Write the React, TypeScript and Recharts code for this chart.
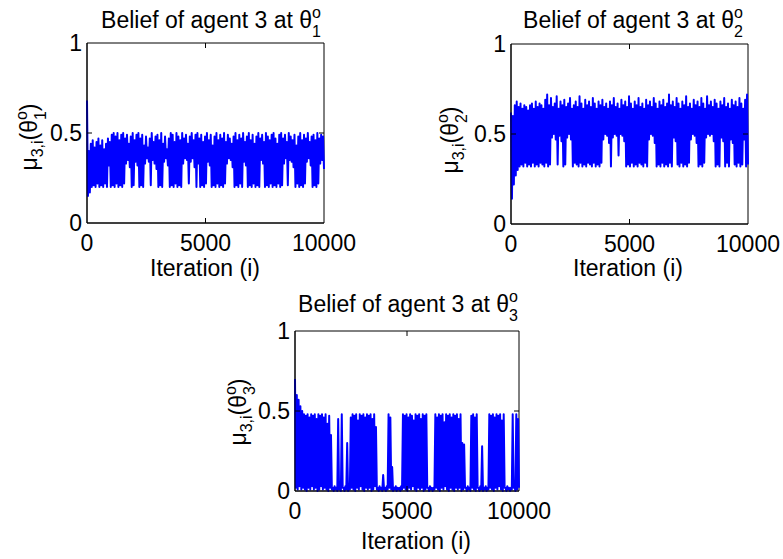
import React from 'react';
import { LineChart, Line, XAxis, YAxis, ReferenceArea, ReferenceLine } from 'recharts';

// ---- tick labels ----
const iterTicks = [0, 5000, 10000];
const beliefTicks = [0, 0.5, 1];

// ---- agent 3 belief at theta_1 (upper / lower envelope per column of ~80 iterations) ----
const theta1High = [
  0.68, 0.40, 0.44, 0.46, 0.42, 0.45, 0.47, 0.43, 0.46, 0.41, 0.44, 0.47, 0.45,
  0.49, 0.50, 0.48, 0.50, 0.46, 0.49, 0.50, 0.47, 0.49, 0.44,
  0.48, 0.50, 0.46, 0.49, 0.50, 0.47, 0.49, 0.43, 0.48, 0.42,
  0.47, 0.50, 0.45, 0.48, 0.49, 0.46, 0.50, 0.44, 0.48, 0.41,
  0.47, 0.50, 0.49, 0.45, 0.50, 0.48, 0.46, 0.50, 0.47, 0.49,
  0.44, 0.48, 0.50, 0.46, 0.49, 0.50, 0.47, 0.49, 0.45, 0.48,
  0.50, 0.46, 0.49, 0.43, 0.48, 0.50, 0.46, 0.49, 0.47, 0.50,
  0.45, 0.49, 0.47, 0.44, 0.48, 0.50, 0.46, 0.49, 0.47, 0.50,
  0.45, 0.48, 0.50, 0.46, 0.49, 0.44, 0.48, 0.50, 0.47, 0.49,
  0.45, 0.50, 0.48, 0.46, 0.49, 0.50, 0.47, 0.44, 0.49, 0.50,
  0.47, 0.49, 0.45, 0.50, 0.48, 0.46, 0.49, 0.43, 0.48, 0.50,
  0.46, 0.49, 0.47, 0.50, 0.45, 0.48, 0.49, 0.46, 0.50, 0.47,
  0.49, 0.48,
];
const theta1Low = [
  0.15, 0.17, 0.20, 0.21, 0.20, 0.22, 0.20, 0.21, 0.20, 0.22, 0.20, 0.32, 0.20,
  0.21, 0.20, 0.22, 0.20, 0.21, 0.20, 0.22, 0.33, 0.35, 0.31,
  0.20, 0.21, 0.34, 0.32, 0.20, 0.21, 0.20, 0.33, 0.36, 0.34,
  0.21, 0.35, 0.33, 0.30, 0.20, 0.21, 0.20, 0.34, 0.36, 0.32,
  0.20, 0.21, 0.20, 0.22, 0.20, 0.21, 0.20, 0.33, 0.36, 0.35,
  0.22, 0.34, 0.36, 0.31, 0.20, 0.33, 0.20, 0.21, 0.20, 0.22,
  0.34, 0.32, 0.20, 0.21, 0.20, 0.22, 0.20, 0.21, 0.20, 0.22,
  0.33, 0.36, 0.35, 0.31, 0.20, 0.21, 0.20, 0.22, 0.20, 0.34,
  0.32, 0.20, 0.21, 0.20, 0.22, 0.20, 0.21, 0.20, 0.35, 0.33,
  0.20, 0.21, 0.20, 0.22, 0.20, 0.21, 0.20, 0.22, 0.20, 0.21,
  0.33, 0.36, 0.21, 0.35, 0.34, 0.31, 0.20, 0.22, 0.20, 0.21,
  0.20, 0.22, 0.34, 0.36, 0.32, 0.20, 0.21, 0.20, 0.22, 0.33,
  0.35, 0.30,
];

// ---- agent 3 belief at theta_2 ----
const theta2High = [
  0.62, 0.60, 0.66, 0.68, 0.65, 0.67, 0.64, 0.66, 0.65, 0.63,
  0.66, 0.67, 0.64, 0.68, 0.65, 0.67, 0.66, 0.64, 0.69, 0.72,
  0.66, 0.70, 0.65, 0.67, 0.71, 0.64, 0.68, 0.66, 0.69, 0.65,
  0.67, 0.70, 0.64, 0.66, 0.68, 0.65, 0.71, 0.67, 0.64, 0.69,
  0.66, 0.68, 0.65, 0.70, 0.67, 0.64, 0.68, 0.66, 0.69, 0.65,
  0.67, 0.64, 0.68, 0.66, 0.70, 0.65, 0.67, 0.64, 0.69, 0.66,
  0.68, 0.65, 0.71, 0.67, 0.64, 0.68, 0.66, 0.70, 0.65, 0.67,
  0.64, 0.69, 0.66, 0.68, 0.65, 0.70, 0.67, 0.64, 0.68, 0.66,
  0.69, 0.65, 0.67, 0.72, 0.66, 0.68, 0.65, 0.70, 0.67, 0.64,
  0.68, 0.66, 0.71, 0.65, 0.67, 0.64, 0.69, 0.66, 0.68, 0.65,
  0.70, 0.67, 0.64, 0.71, 0.66, 0.68, 0.65, 0.69, 0.67, 0.64,
  0.68, 0.66, 0.70, 0.65, 0.67, 0.64, 0.69, 0.66, 0.68, 0.65,
  0.70, 0.67, 0.64, 0.69, 0.72,
];
const theta2Low = [
  0.14, 0.22, 0.27, 0.30, 0.32, 0.33, 0.32, 0.34, 0.32, 0.33,
  0.32, 0.34, 0.32, 0.33, 0.32, 0.34, 0.33, 0.32, 0.34, 0.32,
  0.33, 0.48, 0.50, 0.47, 0.33, 0.49, 0.46, 0.32, 0.33, 0.48,
  0.50, 0.47, 0.32, 0.34, 0.33, 0.32, 0.34, 0.32, 0.33, 0.32,
  0.34, 0.33, 0.32, 0.34, 0.32, 0.33, 0.32, 0.34, 0.47, 0.50,
  0.49, 0.45, 0.32, 0.48, 0.50, 0.49, 0.38, 0.50, 0.49, 0.46,
  0.32, 0.33, 0.32, 0.34, 0.32, 0.33, 0.32, 0.34, 0.33, 0.32,
  0.34, 0.32, 0.47, 0.50, 0.49, 0.45, 0.32, 0.33, 0.32, 0.34,
  0.32, 0.33, 0.32, 0.34, 0.32, 0.48, 0.46, 0.33, 0.32, 0.34,
  0.32, 0.33, 0.32, 0.34, 0.47, 0.50, 0.49, 0.45, 0.32, 0.33,
  0.32, 0.34, 0.48, 0.50, 0.49, 0.50, 0.46, 0.32, 0.33, 0.32,
  0.48, 0.46, 0.32, 0.34, 0.32, 0.47, 0.45, 0.33, 0.32, 0.34,
  0.32, 0.33, 0.47, 0.32, 0.33,
];

// ---- agent 3 belief at theta_3 ----
const theta3High = [
  0.70, 0.60, 0.57, 0.53, 0.50, 0.48, 0.47, 0.48, 0.46, 0.48,
  0.47, 0.48, 0.45, 0.48, 0.47, 0.48, 0.46, 0.48, 0.42, 0.47,
  0.35, 0.02, 0.03, 0.02, 0.45, 0.02, 0.48, 0.02, 0.03, 0.30,
  0.02, 0.46, 0.48, 0.47, 0.48, 0.44, 0.48, 0.47, 0.48, 0.46,
  0.48, 0.47, 0.48, 0.45, 0.48, 0.40, 0.02, 0.03, 0.02, 0.10,
  0.02, 0.03, 0.48, 0.46, 0.15, 0.02, 0.03, 0.02, 0.02, 0.03,
  0.48, 0.47, 0.48, 0.46, 0.48, 0.47, 0.44, 0.48, 0.47, 0.48,
  0.45, 0.48, 0.47, 0.48, 0.02, 0.03, 0.02, 0.02, 0.48, 0.46,
  0.48, 0.47, 0.48, 0.43, 0.48, 0.47, 0.48, 0.46, 0.48, 0.47,
  0.48, 0.45, 0.48, 0.30, 0.29, 0.02, 0.03, 0.02, 0.47, 0.48,
  0.46, 0.48, 0.02, 0.03, 0.28, 0.02, 0.03, 0.02, 0.48, 0.47,
  0.48, 0.46, 0.48, 0.47, 0.48, 0.44, 0.48, 0.02, 0.03, 0.02,
  0.02, 0.48, 0.03, 0.48, 0.45,
];
const theta3Low = [
  0.02, 0.01, 0.03, 0.01, 0.02, 0.01, 0.00, 0.02, 0.01, 0.03,
  0.01, 0.02, 0.00, 0.01, 0.03, 0.01, 0.02, 0.01, 0.00, 0.02,
  0.01, 0.00, 0.01, 0.00, 0.01, 0.00, 0.02, 0.00, 0.01, 0.00,
  0.01, 0.02, 0.01, 0.00, 0.02, 0.01, 0.03, 0.01, 0.00, 0.02,
  0.01, 0.02, 0.00, 0.01, 0.03, 0.01, 0.00, 0.01, 0.00, 0.01,
  0.00, 0.01, 0.02, 0.01, 0.00, 0.01, 0.00, 0.01, 0.00, 0.01,
  0.02, 0.01, 0.00, 0.02, 0.01, 0.03, 0.01, 0.00, 0.02, 0.01,
  0.02, 0.00, 0.01, 0.02, 0.00, 0.01, 0.00, 0.01, 0.02, 0.01,
  0.00, 0.02, 0.01, 0.03, 0.01, 0.00, 0.02, 0.01, 0.00, 0.02,
  0.01, 0.02, 0.00, 0.01, 0.02, 0.00, 0.01, 0.00, 0.02, 0.01,
  0.00, 0.02, 0.00, 0.01, 0.00, 0.01, 0.00, 0.01, 0.02, 0.01,
  0.00, 0.02, 0.01, 0.03, 0.01, 0.00, 0.02, 0.00, 0.01, 0.00,
  0.01, 0.02, 0.00, 0.01, 0.02,
];

const FONT = '"Liberation Sans", Arial, Helvetica, sans-serif';
const W = 783;
const H = 559;
const FS = 23;
const SUB = 16;
const TICK_PX = 5;

function buildSeries(high: number[], low: number[]) {
  const n = high.length * 2;
  const out: { iter: number; belief: number }[] = [];
  high.forEach((h, i) => {
    out.push({ iter: ((2 * i) * 10000) / (n - 1), belief: h });
    out.push({ iter: ((2 * i + 1) * 10000) / (n - 1), belief: low[i] });
  });
  return out;
}

type Box = { left: number; top: number; right: number; bottom: number };

const Y_AXIS_W = 60;
const X_AXIS_H = 30;

function Panel({ data, box }: { data: { iter: number; belief: number }[]; box: Box }) {
  const tickStyle = { fill: '#000', fontSize: FS, fontFamily: FONT };
  const line = { stroke: '#000', strokeWidth: 1 };
  const w = box.right - box.left;
  const h = box.bottom - box.top;
  const tx = (TICK_PX / w) * 10000; // inward tick length in iteration units
  const ty = TICK_PX / h; // inward tick length in belief units
  return (
    <div style={{ position: 'absolute', left: 0, top: 0 }}>
      <LineChart
        width={W}
        height={H}
        data={data}
        margin={{
          top: box.top,
          left: box.left - Y_AXIS_W,
          right: W - box.right,
          bottom: H - box.bottom - X_AXIS_H,
        }}
      >
        <XAxis
          xAxisId="b"
          dataKey="iter"
          type="number"
          domain={[0, 10000]}
          ticks={iterTicks}
          interval={0}
          height={X_AXIS_H}
          tickSize={0}
          tickMargin={12}
          axisLine={line}
          tickLine={false}
          tick={tickStyle}
        />
        <YAxis
          yAxisId="l"
          type="number"
          domain={[0, 1]}
          ticks={beliefTicks}
          interval={0}
          width={Y_AXIS_W}
          tickSize={0}
          tickMargin={5}
          axisLine={line}
          tickLine={false}
          tick={tickStyle}
        />
        <Line
          xAxisId="b"
          yAxisId="l"
          type="linear"
          dataKey="belief"
          stroke="#0000ff"
          strokeWidth={2}
          strokeLinejoin="round"
          dot={false}
          activeDot={false}
          isAnimationActive={false}
        />
        <ReferenceArea
          xAxisId="b"
          yAxisId="l"
          x1={0}
          x2={10000}
          y1={0}
          y2={1}
          fill="none"
          fillOpacity={0}
          stroke="#000"
          strokeWidth={1}
          ifOverflow="visible"
        />
        {iterTicks.slice(1, -1).map((t) => (
          <ReferenceLine
            key={`xb${t}`}
            xAxisId="b"
            yAxisId="l"
            segment={[{ x: t, y: 0 }, { x: t, y: ty }]}
            stroke="#000"
          />
        ))}
        {iterTicks.slice(1, -1).map((t) => (
          <ReferenceLine
            key={`xt${t}`}
            xAxisId="b"
            yAxisId="l"
            segment={[{ x: t, y: 1 }, { x: t, y: 1 - ty }]}
            stroke="#000"
          />
        ))}
        {beliefTicks.slice(1, -1).map((t) => (
          <ReferenceLine
            key={`yl${t}`}
            xAxisId="b"
            yAxisId="l"
            segment={[{ x: 0, y: t }, { x: tx, y: t }]}
            stroke="#000"
          />
        ))}
        {beliefTicks.slice(1, -1).map((t) => (
          <ReferenceLine
            key={`yr${t}`}
            xAxisId="b"
            yAxisId="l"
            segment={[{ x: 10000, y: t }, { x: 10000 - tx, y: t }]}
            stroke="#000"
          />
        ))}
      </LineChart>
    </div>
  );
}

function Title({ x, y, k }: { x: number; y: number; k: string }) {
  return (
    <text x={x} y={y} textAnchor="middle" fontSize={FS} fontFamily={FONT} fill="#000">
      Belief of agent 3 at θ
      <tspan fontSize={SUB} dy={9}>{k}</tspan>
      <tspan fontSize={SUB} dx={-9} dy={-19}>o</tspan>
    </text>
  );
}

function YLabel({ x, y, k }: { x: number; y: number; k: string }) {
  return (
    <text
      x={x}
      y={y}
      transform={`rotate(-90 ${x} ${y})`}
      textAnchor="middle"
      fontSize={FS}
      fontFamily={FONT}
      fill="#000"
    >
      μ
      <tspan fontSize={SUB} dy={6}>3,i</tspan>
      <tspan dy={-6}>(θ</tspan>
      <tspan fontSize={SUB} dy={9}>{k}</tspan>
      <tspan fontSize={SUB} dx={-9} dy={-19}>o</tspan>
      <tspan dy={10}>)</tspan>
    </text>
  );
}

function XLabel({ x, y }: { x: number; y: number }) {
  return (
    <text x={x} y={y} textAnchor="middle" fontSize={FS} fontFamily={FONT} fill="#000">
      Iteration (i)
    </text>
  );
}

export default function App() {
  const d1 = buildSeries(theta1High, theta1Low);
  const d2 = buildSeries(theta2High, theta2Low);
  const d3 = buildSeries(theta3High, theta3Low);
  return (
    <div
      style={{
        position: 'absolute',
        left: 0,
        top: 0,
        width: W,
        height: H,
        background: '#fff',
        overflow: 'hidden',
      }}
    >
      <Panel data={d1} box={{ left: 87, top: 43, right: 324, bottom: 223 }} />
      <Panel data={d2} box={{ left: 511, top: 44, right: 748, bottom: 224 }} />
      <Panel data={d3} box={{ left: 295, top: 331, right: 519, bottom: 491 }} />
      <svg
        width={W}
        height={H}
        style={{ position: 'absolute', left: 0, top: 0, pointerEvents: 'none' }}
      >
        <Title x={211} y={28} k="1" />
        <Title x={633} y={28} k="2" />
        <Title x={408} y={312} k="3" />
        <YLabel x={37} y={137} k="1" />
        <YLabel x={458} y={140} k="2" />
        <YLabel x={246} y={412} k="3" />
        <XLabel x={205} y={276} />
        <XLabel x={628} y={276} />
        <XLabel x={416} y={549} />
      </svg>
    </div>
  );
}
